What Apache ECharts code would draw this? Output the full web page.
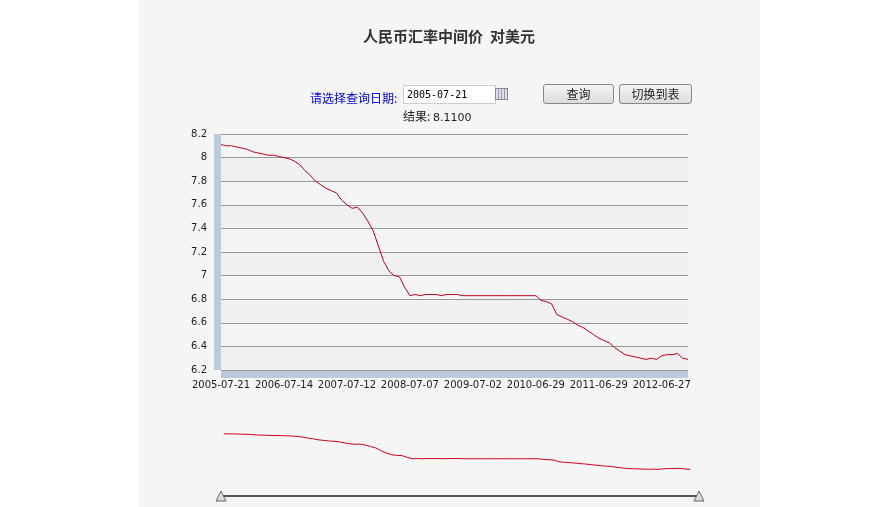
<!DOCTYPE html>
<html><head><meta charset="utf-8">
<script src="https://cdn.jsdelivr.net/npm/echarts@6/dist/echarts.min.js"></script>
<style>
body{margin:0;background:#fff;font-family:"Noto Sans CJK SC",sans-serif;}
#panel{position:absolute;left:138px;top:0;width:622px;height:507px;background:#f5f5f5;}
#c{position:absolute;left:0;top:0;width:622px;height:507px;}
.ctl{position:absolute;font-size:12px;}
.btn{position:absolute;top:84px;height:18px;border:1px solid #888;border-radius:3px;background:linear-gradient(#f4f4f4,#dcdcdc);font-size:12px;text-align:center;line-height:18px;color:#222;}
</style></head><body>
<div id="panel">
<div id="c"></div>
<div class="ctl" style="left:172px;top:89px;color:#0000ee;">请选择查询日期:</div>
<div class="ctl" style="left:265px;top:85px;width:88px;height:17px;background:#fff;border:1px solid #ccc;font-family:'DejaVu Sans Mono';font-size:10px;line-height:17px;padding-left:3px;">2005-07-21</div>
<div class="ctl" style="left:357px;top:88px;width:11px;height:10px;border:1px solid #889;background:repeating-linear-gradient(90deg,#dde 0 2px,#99a 2px 3px);"></div>
<div class="ctl" style="left:265px;top:107px;color:#222;">结果: <span style="font-family:'DejaVu Sans';font-size:11px">8.1100</span></div>
<div class="btn" style="left:405px;width:69px;">查询</div>
<div class="btn" style="left:481px;width:71px;">切换到表</div>
</div>
<script>
const tickLabels=['2005-07-21','2006-07-14','2007-07-12','2008-07-07','2009-07-02','2010-06-29','2011-06-29','2012-06-27'];
const rates=[8.11,8.10,8.10,8.09,8.08,8.07,8.05,8.04,8.03,8.02,8.02,8.01,8.00,7.99,7.97,7.94,7.89,7.85,7.80,7.77,7.74,7.72,7.70,7.64,7.60,7.57,7.58,7.53,7.46,7.38,7.25,7.12,7.04,7.00,6.99,6.90,6.83,6.84,6.83,6.84,
6.84,6.84,6.83,6.84,6.84,6.84,6.83,6.83,6.83,6.83,6.83,6.83,6.83,6.83,6.83,6.83,6.83,6.83,6.83,6.83,6.83,6.79,6.78,6.76,6.67,6.65,6.63,6.61,6.58,6.56,6.53,6.50,6.47,6.45,6.43,6.39,6.36,6.33,6.32,6.31,6.30,6.29,6.30,6.29,6.32,6.33,6.33,6.34,6.30,6.29];
const cats=rates.map((v,i)=>i%12===0?tickLabels[i/12]:'');
const ch=echarts.init(document.getElementById('c'));
const tri=x=>({type:'polygon',shape:{points:[[x-5,501],[x,491],[x+5,501]]},style:{fill:'#ddd',stroke:'#666',lineWidth:1},z:10});
ch.setOption({
 animation:false,
 title:{text:'人民币汇率中间价  对美元',left:'center',top:24,textStyle:{fontSize:15,fontWeight:'bold',color:'#333',fontFamily:'Noto Sans CJK SC'}},
 grid:{left:83,right:72,top:134,bottom:137},
 xAxis:{type:'category',data:cats,boundaryGap:false,offset:4,
  axisLine:{lineStyle:{color:'#bccbdb',width:7,cap:'butt'}},axisTick:{show:false},
  axisLabel:{interval:0,color:'#222',fontSize:10,fontFamily:'DejaVu Sans',margin:6,formatter:v=>v}},
 yAxis:{type:'value',min:6.2,max:8.2,interval:0.2,offset:4,
  axisLine:{show:true,lineStyle:{color:'#bccbdb',width:7,cap:'butt'}},axisTick:{show:false},
  axisLabel:{color:'#222',fontSize:10,fontFamily:'DejaVu Sans',margin:10,formatter:v=>+v.toFixed(1)+''},
  splitLine:{lineStyle:{color:'#999'}},
  splitArea:{show:true,areaStyle:{color:['#f0f0f0','#f5f5f5']}}},
 dataZoom:[{type:'slider',left:83,right:72,top:423,height:57,start:0,end:100,
  borderColor:'transparent',backgroundColor:'transparent',fillerColor:'rgba(0,0,0,0)',
  showDetail:false,moveHandleSize:0,handleSize:0,handleStyle:{opacity:0},
  dataBackground:{lineStyle:{color:'#d00018',width:1,opacity:1},areaStyle:{opacity:0}},
  selectedDataBackground:{lineStyle:{color:'#d00018',width:1},areaStyle:{opacity:0}}}],
 graphic:[{type:'line',shape:{x1:83,y1:496,x2:561,y2:496},style:{stroke:'#555',lineWidth:2}},tri(83),tri(561)],
 series:[{type:'line',data:rates,symbol:'none',lineStyle:{color:'#c0001a',width:1}}]
});
</script></body></html>
